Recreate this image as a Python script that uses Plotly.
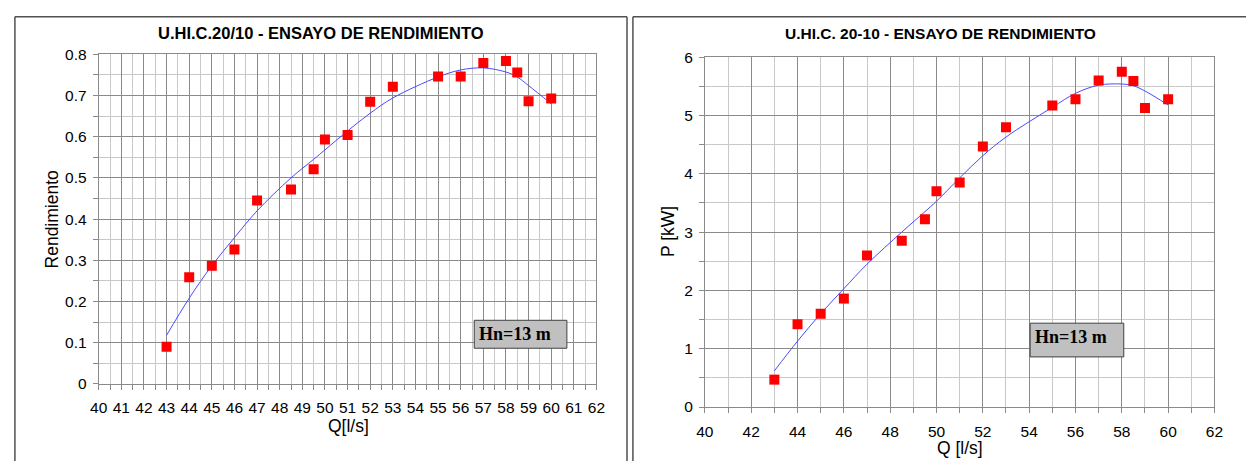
import plotly.graph_objects as go

# ---- data ----
q = [43, 44, 45, 46, 47, 48.5, 49.5, 50, 51, 52, 53, 55, 56, 57, 58, 58.5, 59, 60]
rend = [0.090, 0.259, 0.287, 0.326, 0.445, 0.472, 0.521, 0.593, 0.604, 0.685,
        0.721, 0.746, 0.746, 0.779, 0.784, 0.756, 0.686, 0.693]
rend_trend = [0.118, 0.208, 0.287, 0.355, 0.420, 0.500, 0.545, 0.568, 0.614, 0.657,
              0.694, 0.745, 0.762, 0.767, 0.757, 0.745, 0.724, 0.680]
pot = [0.47, 1.42, 1.60, 1.86, 2.60, 2.85, 3.22, 3.70, 3.85, 4.47,
       4.80, 5.17, 5.28, 5.60, 5.75, 5.59, 5.13, 5.28]
pot_trend = [0.62, 1.13, 1.60, 2.03, 2.45, 3.00, 3.35, 3.53, 3.93, 4.31,
             4.63, 5.14, 5.38, 5.52, 5.54, 5.51, 5.42, 5.18]

title_left = "U.HI.C.20/10 - ENSAYO DE RENDIMIENTO"
title_right = "U.HI.C. 20-10 - ENSAYO DE RENDIMIENTO"
note = "Hn=13 m"

W, H = 1255, 469
def px(x):
    return x / W
def py(y):
    return 1 - y / H

fig = go.Figure()

marker = dict(symbol="square", size=10, color="#ff0000", line=dict(width=0))
trend_line = dict(color="#4a4aff", width=1, shape="spline")

fig.add_trace(go.Scatter(x=q, y=rend_trend, mode="lines", line=trend_line,
                         xaxis="x", yaxis="y", showlegend=False, hoverinfo="skip"))
fig.add_trace(go.Scatter(x=q, y=rend, mode="markers", marker=marker,
                         xaxis="x", yaxis="y", showlegend=False))
fig.add_trace(go.Scatter(x=q, y=pot_trend, mode="lines", line=trend_line,
                         xaxis="x2", yaxis="y2", showlegend=False, hoverinfo="skip"))
fig.add_trace(go.Scatter(x=q, y=pot, mode="markers", marker=marker,
                         xaxis="x2", yaxis="y2", showlegend=False))

font_tick = dict(family="Liberation Sans, Arial", size=15.5, color="#000")
DARK = "#8a8a8a"
LIGHT = "#c8c8c8"

def axis_common(**kw):
    d = dict(showline=True, linecolor=DARK, linewidth=1, mirror=True,
             showgrid=True, gridcolor=DARK, gridwidth=1,
             ticks="outside", ticklen=5, tickcolor=DARK,
             tickfont=font_tick, zeroline=False, fixedrange=True)
    d.update(kw)
    return d

fig.update_layout(
    width=W, height=H,
    margin=dict(l=0, r=0, t=0, b=0),
    paper_bgcolor="white", plot_bgcolor="white",
    xaxis=axis_common(domain=[px(91), px(596)], range=[40, 62], dtick=1, tick0=40,
                      ticklabelstandoff=5,
                      minor=dict(dtick=0.5, showgrid=True, gridcolor=LIGHT,
                                 ticks="outside", ticklen=5, tickcolor=DARK),
                      anchor="y"),
    yaxis=axis_common(domain=[py(389), py(47)], range=[0, 0.8], dtick=0.1, tick0=0,
                      ticklabelstandoff=3,
                      minor=dict(dtick=0.05, showgrid=True, gridcolor=LIGHT,
                                 ticks="outside", ticklen=5, tickcolor=DARK),
                      anchor="x"),
    xaxis2=axis_common(domain=[px(706), px(1223)], range=[40, 62], dtick=2, tick0=40,
                       ticklabelstandoff=5,
                       minor=dict(dtick=1, showgrid=True, gridcolor=LIGHT,
                                  ticks="outside", ticklen=5, tickcolor=DARK),
                       anchor="y2"),
    yaxis2=axis_common(domain=[py(413), py(50)], range=[0, 6], dtick=1, tick0=0,
                       ticklabelstandoff=3,
                       minor=dict(dtick=0.5, showgrid=True, gridcolor=LIGHT,
                                  ticks="outside", ticklen=5, tickcolor=DARK),
                       anchor="x2"),
)

shapes = []
border = dict(color="#505050", width=1.5)
# left panel frame
shapes.append(dict(type="line", xref="paper", yref="paper", x0=px(6), x1=px(6), y0=0, y1=py(8), line=border))
shapes.append(dict(type="line", xref="paper", yref="paper", x0=px(6), x1=px(627), y0=py(8), y1=py(8), line=border))
shapes.append(dict(type="line", xref="paper", yref="paper", x0=px(627), x1=px(627), y0=0, y1=py(8), line=border))
# right panel frame
shapes.append(dict(type="line", xref="paper", yref="paper", x0=px(633), x1=px(633), y0=0, y1=py(8), line=border))
shapes.append(dict(type="line", xref="paper", yref="paper", x0=px(633), x1=1, y0=py(8), y1=py(8), line=border))
# note boxes
shapes.append(dict(type="rect", xref="paper", yref="paper", x0=px(472), x1=px(566), y0=py(352), y1=py(323),
                   fillcolor="#c0c0c0", line=dict(color="#404040", width=1)))
shapes.append(dict(type="rect", xref="paper", yref="paper", x0=px(1036), x1=px(1131), y0=py(361), y1=py(326),
                   fillcolor="#c0c0c0", line=dict(color="#404040", width=1)))
fig.update_layout(shapes=shapes)

ann = []
ann.append(dict(text=f"<b>{title_left}</b>", x=px(317), y=py(25), xref="paper", yref="paper",
                showarrow=False, font=dict(family="Liberation Sans, Arial", size=16.5, color="#000"),
                xanchor="center", yanchor="middle"))
ann.append(dict(text=f"<b>{title_right}</b>", x=px(945), y=py(25), xref="paper", yref="paper",
                showarrow=False, font=dict(family="Liberation Sans, Arial", size=15.5, color="#000"),
                xanchor="center", yanchor="middle"))
afont = dict(family="Liberation Sans, Arial", size=17.5, color="#000")
ann.append(dict(text="Rendimiento", x=px(44), y=py(218), xref="paper", yref="paper", textangle=-90,
                showarrow=False, font=afont, xanchor="center", yanchor="middle"))
ann.append(dict(text="Q[l/s]", x=px(344), y=py(433), xref="paper", yref="paper",
                showarrow=False, font=afont, xanchor="center", yanchor="middle"))
ann.append(dict(text="P [kW]", x=px(668), y=py(231), xref="paper", yref="paper", textangle=-90,
                showarrow=False, font=afont, xanchor="center", yanchor="middle"))
ann.append(dict(text="Q [l/s]", x=px(965), y=py(456), xref="paper", yref="paper",
                showarrow=False, font=afont, xanchor="center", yanchor="middle"))
nfont = dict(family="Liberation Serif, Times New Roman", size=18, color="#000")
ann.append(dict(text=f"<b>{note}</b>", x=px(475), y=py(325), xref="paper", yref="paper",
                showarrow=False, font=nfont, xanchor="left", yanchor="top"))
ann.append(dict(text=f"<b>{note}</b>", x=px(1039), y=py(328), xref="paper", yref="paper",
                showarrow=False, font=nfont, xanchor="left", yanchor="top"))
fig.update_layout(annotations=ann)

fig.write_html(
    "out.html",
    config={"displayModeBar": False},
    post_script="document.body.style.margin='0';document.body.style.padding='0';"
                "document.body.style.overflow='hidden';",
)
